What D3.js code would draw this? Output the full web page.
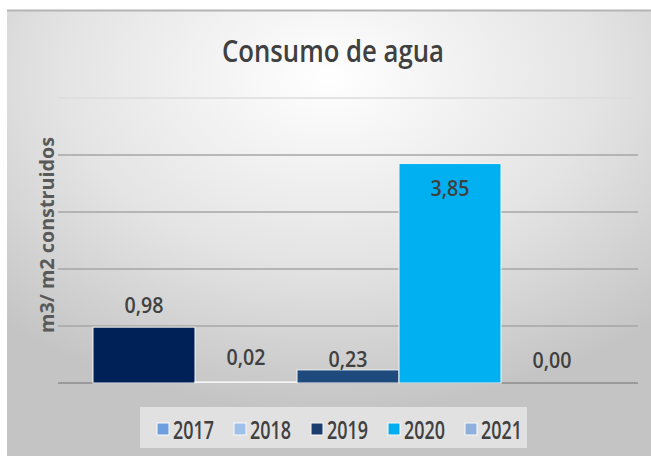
<!DOCTYPE html>
<html><head><meta charset="utf-8">
<script src="https://cdn.jsdelivr.net/npm/d3@7"></script>
<style>body{margin:0;background:#fff}svg{display:block}</style>
</head><body><svg id="c" width="651" height="456"></svg>
<script>
const title = "Consumo de agua";
const yLabel = "m3/ m2 construidos";
const series = ["2017","2018","2019","2020","2021"];
const values = [0.98, 0.02, 0.23, 3.85, 0.00];
const labels = ["0,98","0,02","0,23","3,85","0,00"];
const barColors = ["#002158","#ffffff","#1f4a7e","#00b0f0","none"];
const legendColors = ["#6f9ee0","#9ec0ea","#1c3e6e","#00aef0","#8fb0dc"];
const yTicks = [0,1,2,3,4,5];

const FONT = "'Open Sans',sans-serif";
const svg = d3.select("#c");
const defs = svg.append("defs");
const g1 = defs.append("radialGradient").attr("id","bg").attr("cx","50%").attr("cy","15%").attr("r","75%");
g1.append("stop").attr("offset","0%").attr("stop-color","#ffffff");
g1.append("stop").attr("offset","55%").attr("stop-color","#e4e4e4");
g1.append("stop").attr("offset","100%").attr("stop-color","#c4c4c4");
svg.append("rect").attr("x",7).attr("y",10).attr("width",644).attr("height",446).attr("fill","url(#bg)");
svg.append("line").attr("x1",7).attr("x2",651).attr("y1",10.5).attr("y2",10.5).attr("stroke","#b4b4b4").attr("stroke-width",2);

const x0 = 58, x1 = 638;
const y = d3.scaleLinear().domain([0,5]).range([383,98]);
const x = d3.scaleBand().domain(series).range([x0+35, x1-35]).padding(0);

// gridlines
svg.append("g").selectAll("line").data(yTicks).join("line")
  .attr("x1",x0).attr("x2",x1).attr("y1",d=>y(d)).attr("y2",d=>y(d))
  .attr("stroke",d=>d===5?"#dcdcdc":(d===0?"#9a9a9a":"#a6a6a6")).attr("stroke-width",d=>d===0?2:1.3);

// bars
svg.append("g").selectAll("rect").data(values).join("rect")
  .attr("x",(d,i)=>x(series[i])).attr("width",x.bandwidth())
  .attr("y",d=>y(d)).attr("height",d=>Math.max(y(0)-y(d),0))
  .attr("fill",(d,i)=>barColors[i])
  .attr("stroke",(d,i)=>barColors[i]==="none"?"none":"#f4f4f4").attr("stroke-width",1);

// data labels
const labelOff = [-22,-25,-11,25,-23];
svg.append("g").selectAll("text").data(values).join("text")
  .attr("x",(d,i)=>x(series[i])+x.bandwidth()/2)
  .attr("y",(d,i)=>y(d)+labelOff[i])
  .attr("dy","0.36em").attr("text-anchor","middle")
  .attr("font-family",FONT).attr("font-size",22).attr("font-weight",600)
  .attr("textLength",39).attr("lengthAdjust","spacingAndGlyphs")
  .attr("fill","#404040").text((d,i)=>labels[i]);

// title
svg.append("text").attr("x",333).attr("y",62).attr("text-anchor","middle")
  .attr("font-family",FONT).attr("font-size",31).attr("font-weight",600)
  .attr("textLength",222).attr("lengthAdjust","spacingAndGlyphs")
  .attr("fill","#404040").text(title);

// y label
svg.append("text").attr("transform","translate(54,235) rotate(-90)").attr("text-anchor","middle")
  .attr("font-family",FONT).attr("font-weight",700).attr("font-size",20)
  .attr("textLength",196).attr("lengthAdjust","spacingAndGlyphs")
  .attr("fill","#595959").text(yLabel);

// legend
svg.append("rect").attr("x",140).attr("y",407).attr("width",387).attr("height",41).attr("fill","#e9e9e9").attr("opacity",0.8);
const lg = svg.append("g").selectAll("g").data(series).join("g").attr("transform",(d,i)=>`translate(${157+77*i},429)`);
lg.append("rect").attr("x",0).attr("y",-6).attr("width",12).attr("height",12)
  .attr("fill",(d,i)=>legendColors[i]).attr("stroke","#fafafa").attr("stroke-width",1);
lg.append("text").attr("x",16).attr("y",1).attr("dy","0.36em")
  .attr("font-family",FONT).attr("font-size",25).attr("font-weight",600)
  .attr("textLength",41).attr("lengthAdjust","spacingAndGlyphs")
  .attr("fill","#404040").text(d=>d);
</script></body></html>
